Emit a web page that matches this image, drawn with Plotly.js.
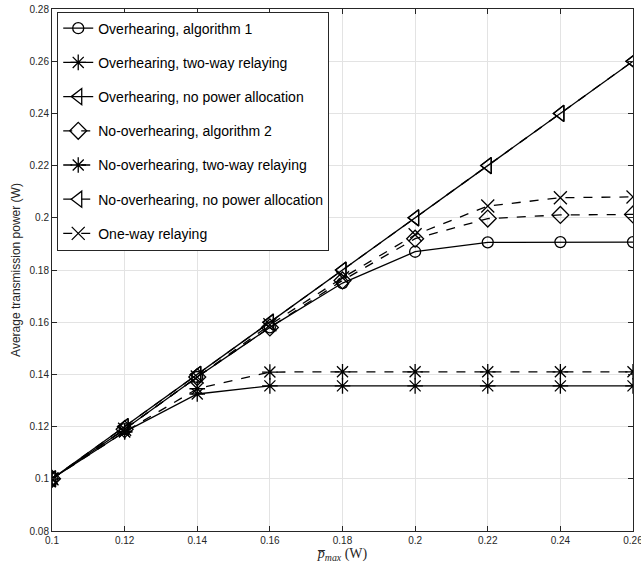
<!DOCTYPE html>
<html>
<head>
<meta charset="utf-8">
<script src="https://cdn.plot.ly/plotly-3.0.1.min.js"></script>
<style>html,body{margin:0;padding:0;background:#fff;}#chart{width:641px;height:567px;}</style>
</head>
<body>
<div id="chart"></div>
<script>
const pmax = [0.10, 0.12, 0.14, 0.16, 0.18, 0.20, 0.22, 0.24, 0.26];
const ovAlg1 = [0.100, 0.119, 0.139, 0.158, 0.175, 0.187, 0.1906, 0.1907, 0.1907];
const ovTwoWay = [0.100, 0.118, 0.1325, 0.1356, 0.1356, 0.1356, 0.1356, 0.1356, 0.1356];
const ovNoPA = [0.100, 0.120, 0.140, 0.160, 0.180, 0.200, 0.220, 0.240, 0.260];
const noAlg2 = [0.100, 0.119, 0.139, 0.158, 0.176, 0.192, 0.1997, 0.2011, 0.2013];
const noTwoWay = [0.100, 0.118, 0.1345, 0.1409, 0.1410, 0.1410, 0.1410, 0.1410, 0.1410];
const noNoPA = [0.100, 0.120, 0.140, 0.160, 0.180, 0.200, 0.220, 0.240, 0.260];
const oneWay = [0.100, 0.119, 0.139, 0.159, 0.177, 0.1935, 0.2045, 0.2077, 0.2080];
const names = [
  "Overhearing, algorithm 1",
  "Overhearing, two-way relaying",
  "Overhearing, no power allocation",
  "No-overhearing, algorithm 2",
  "No-overhearing, two-way relaying",
  "No-overhearing, no power allocation",
  "One-way relaying"
];
const xTicks = [0.1, 0.12, 0.14, 0.16, 0.18, 0.2, 0.22, 0.24, 0.26];
const yTicks = [0.08, 0.1, 0.12, 0.14, 0.16, 0.18, 0.2, 0.22, 0.24, 0.26, 0.28];

const series = [ovAlg1, ovTwoWay, ovNoPA, noAlg2, noTwoWay, noNoPA, oneWay];
const symbols = ['circle-open', 'asterisk-open', 'triangle-left-open', 'diamond-open', 'asterisk-open', 'triangle-left-open', 'x-thin-open'];
const dashes = ['solid', 'solid', 'solid', 'dash', 'dash', 'dash', 'dash'];
const sizes = [11, 13, 14, 13, 13, 14, 13];

const traces = series.map((ys, i) => ({
  x: pmax, y: ys, name: names[i], type: 'scatter', mode: 'lines+markers',
  legendgroup: 'g' + i,
  line: {color: '#000', width: 1.3, dash: dashes[i]},
  marker: {symbol: symbols[i], size: sizes[i], color: '#000', line: {color: '#000', width: 1.3}}
}));

const axisCommon = {
  showline: true, linecolor: '#262626', linewidth: 1, mirror: 'ticks',
  ticks: 'inside', ticklen: 5, tickcolor: '#262626',
  showgrid: true, gridcolor: '#e3e3e3', gridwidth: 1, zeroline: false,
  ticklabeloverflow: 'allow',
  tickfont: {family: 'Liberation Sans, Arial, sans-serif', size: 10, color: '#262626'}
};

const layout = {
  width: 641, height: 567,
  margin: {l: 52, r: 8, t: 9, b: 36},
  paper_bgcolor: '#fff', plot_bgcolor: '#fff',
  showlegend: true,
  legend: {
    x: 0.009, y: 0.995, xanchor: 'left', yanchor: 'top',
    bgcolor: '#fff', bordercolor: '#262626', borderwidth: 1,
    font: {family: 'Liberation Sans, Arial, sans-serif', size: 14, color: '#000'},
    traceorder: 'grouped', tracegroupgap: 13
  },
  xaxis: Object.assign({}, axisCommon, {
    range: [0.1, 0.26], tickvals: xTicks, ticktext: xTicks.map(String),
    title: {text: '<i>p̅</i><sub><i>max</i></sub> (W)', standoff: 2,
      font: {family: 'Liberation Serif, DejaVu Serif, serif', size: 14, color: '#262626'}}
  }),
  yaxis: Object.assign({}, axisCommon, {
    range: [0.08, 0.28], tickvals: yTicks, ticktext: yTicks.map(String),
    title: {text: 'Average transmission power (W)', standoff: 6,
      font: {family: 'Liberation Sans, Arial, sans-serif', size: 12, color: '#262626'}}
  })
};

Plotly.newPlot('chart', traces, layout, {displayModeBar: false, staticPlot: true});
</script>
</body>
</html>
